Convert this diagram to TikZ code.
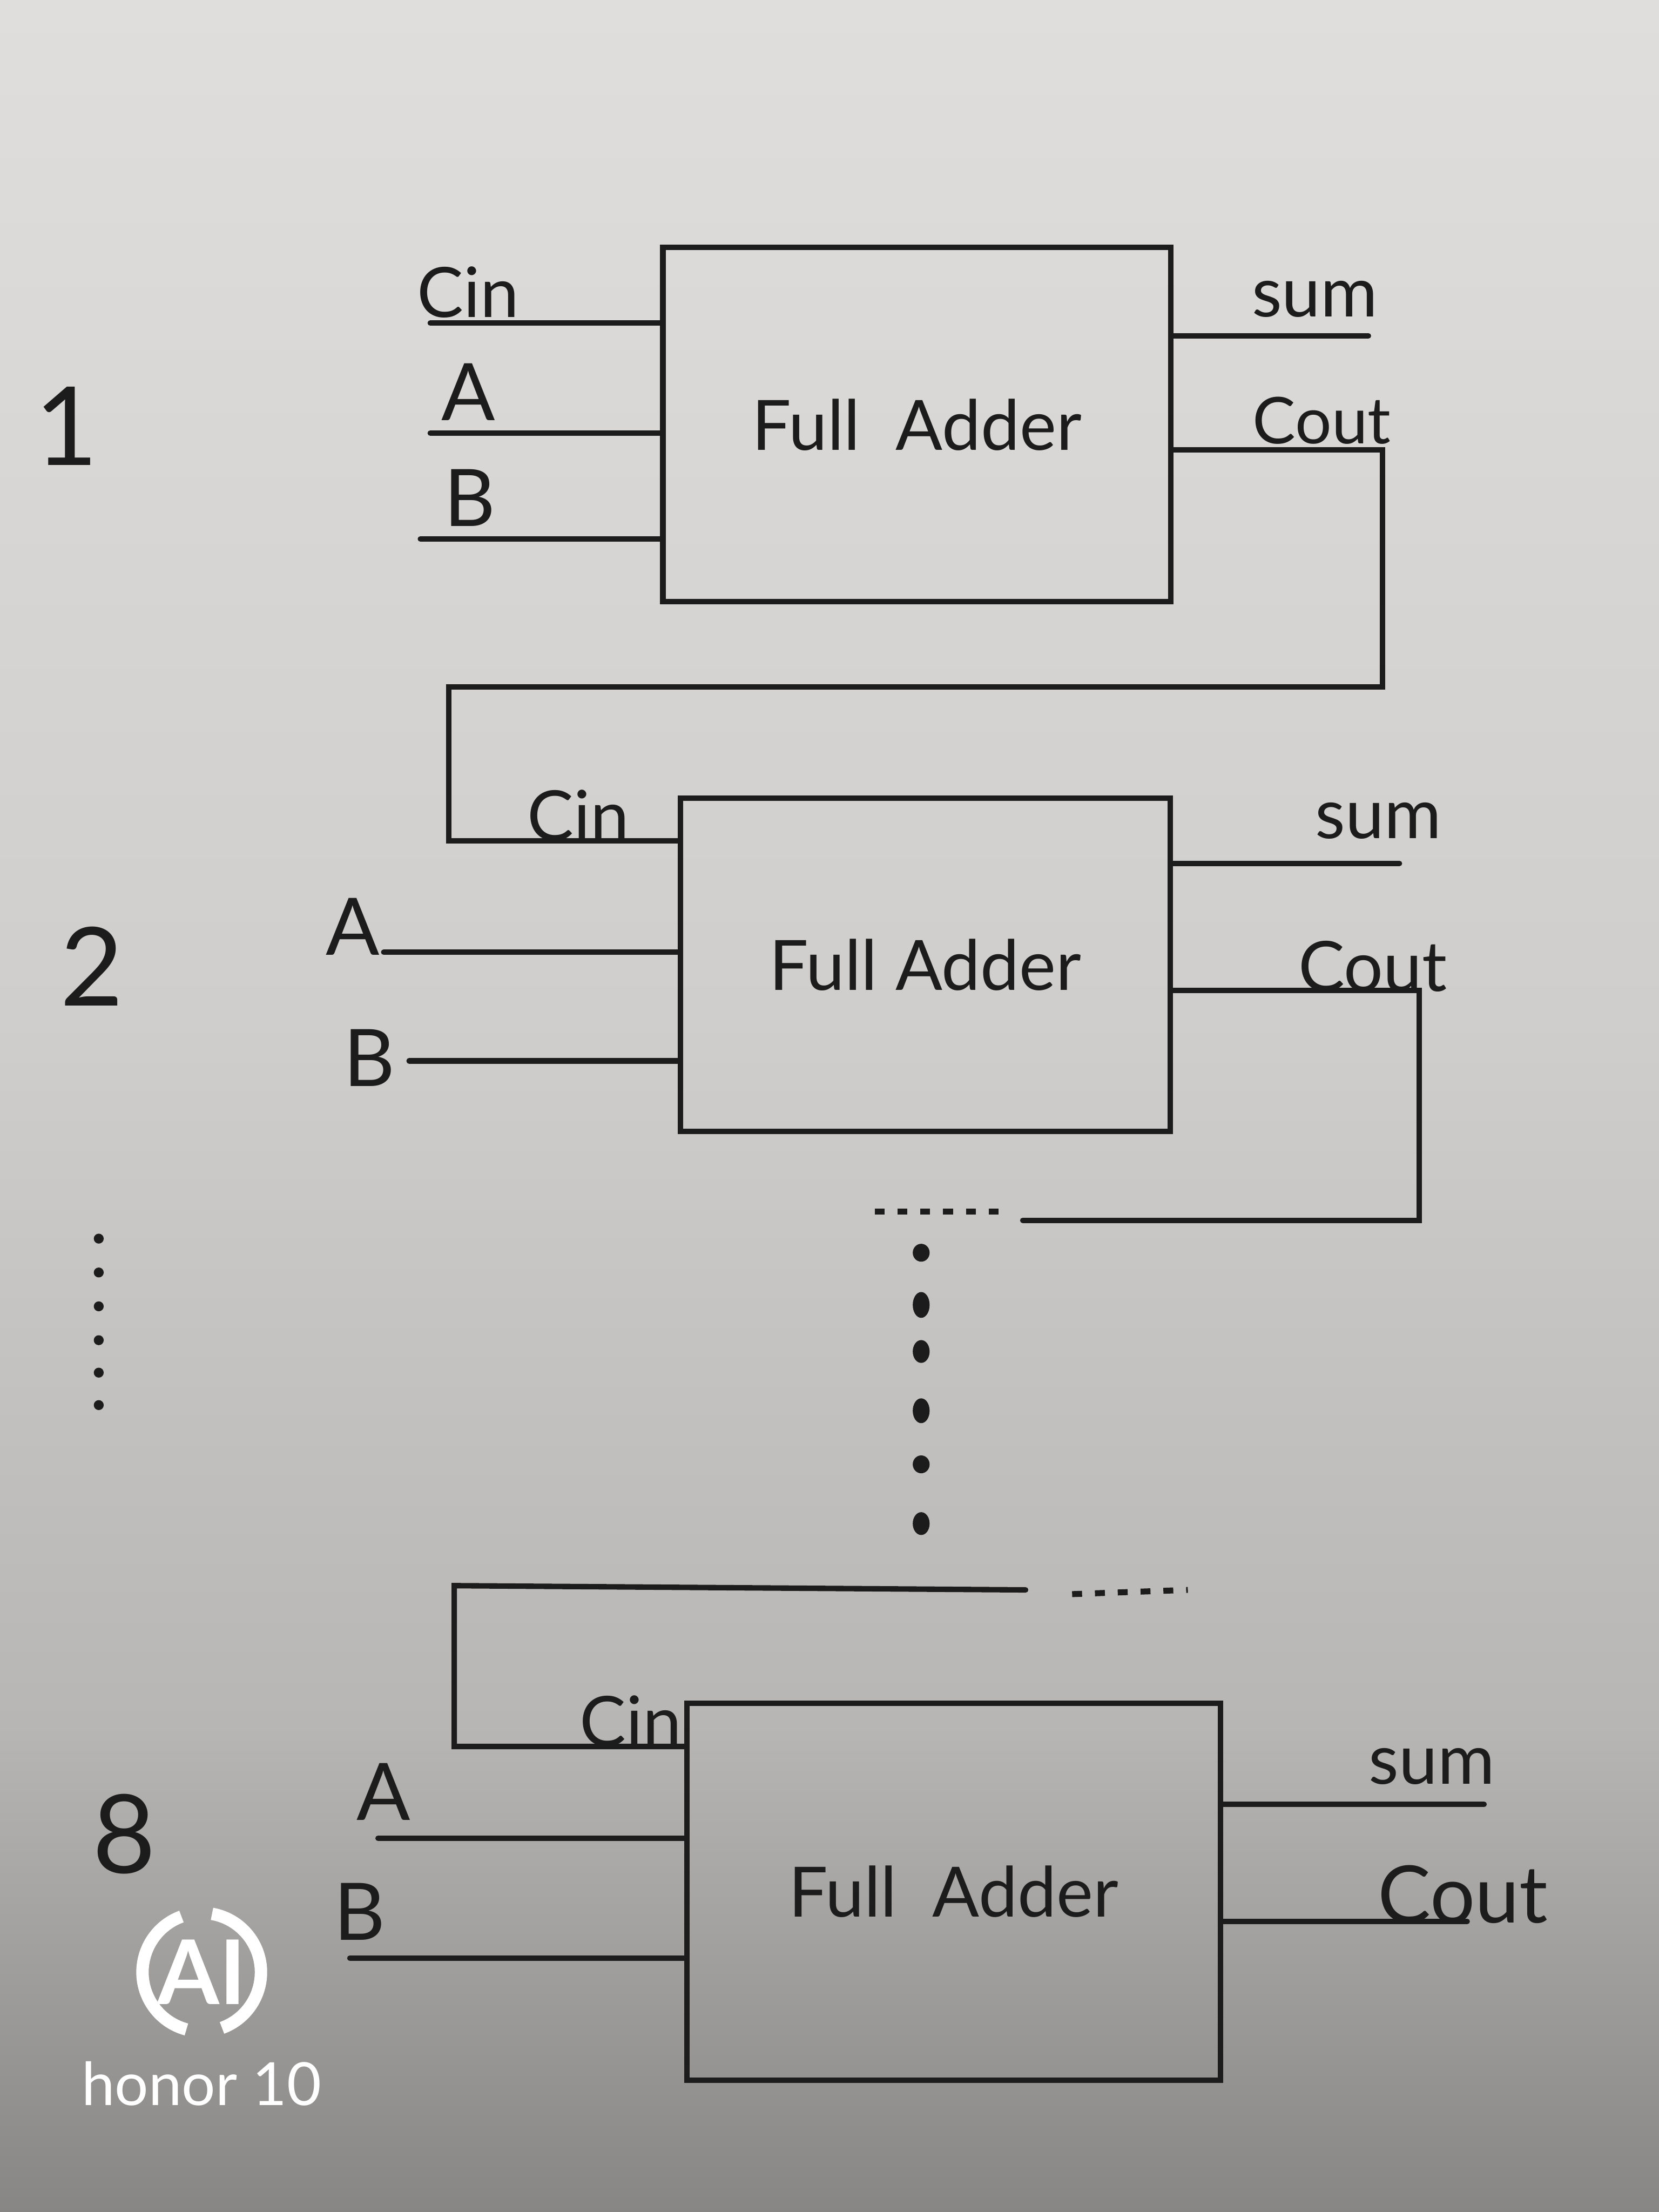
\documentclass[tikz,border=0pt]{standalone}
\usepackage{fontspec}
\setmainfont{Lato}
\usepackage{tikz}
\usetikzlibrary{positioning, calc, shapes.geometric}
\definecolor{PaperTop}{RGB}{224,222,220}
\definecolor{PaperMid}{RGB}{208,206,204}
\definecolor{PaperLow}{RGB}{184,182,180}
\definecolor{PaperBot}{RGB}{136,134,132}
\definecolor{Ink}{RGB}{28,28,28}
\pgfdeclareverticalshading{paper}{100bp}{color(0bp)=(PaperBot); color(25bp)=(PaperBot);
  color(36bp)=(PaperLow); color(52bp)=(PaperMid); color(75bp)=(PaperTop); color(100bp)=(PaperTop)}

\begin{document}
\begin{tikzpicture}[x=0.01cm, y=-0.01cm,
          fa/.style={rectangle, draw=Ink, line width=1.1pt, font=\fontsize{14}{16}\selectfont,
                     text=Ink, inner sep=0pt},
          wire/.style={draw=Ink, line width=1.1pt, line cap=round},
          lbl/.style={font=\fontsize{14}{16}\selectfont, text=Ink, inner sep=0pt},
          pin/.style={font=\fontsize{16}{18}\selectfont, text=Ink, inner sep=0pt},
          num/.style={font=\fontsize{22}{24}\selectfont, text=Ink, inner sep=0pt},
          more/.style={draw=Ink, line width=1.2pt, dash pattern=on 2pt off 2.6pt},
          dot/.style={ellipse, fill=Ink, inner sep=0pt, minimum width=3.4pt, minimum height=#1},
          tiny/.style={circle, fill=Ink, inner sep=0pt, minimum size=2pt}
        ]
        % Paper
        \shade[shading=paper] (0,0) rectangle (1176,1568);
        \useasboundingbox (0,0) rectangle (1176,1568);

        % Stage 1
        \node[fa, minimum width=3.6cm, minimum height=2.51cm]
              (fa1) at (650,301) {Full\ \ Adder};
        \node[num] (n1) at (47,302) {1};
        \coordinate (cin1) at (305,229);
        \coordinate (a1) at (305,307);
        \coordinate (b1) at (298,382);
        \coordinate (sum1) at (970,238);
        \coordinate (k1a) at (980,319);
        \coordinate (k1b) at (980,487);
        \coordinate (k1c) at (318,487);
        \coordinate (k1d) at (318,596);
        \draw[wire] (cin1) -- (cin1 -| fa1.west);
        \draw[wire] (a1) -- (a1 -| fa1.west);
        \draw[wire] (b1) -- (b1 -| fa1.west);
        \draw[wire] (fa1.east |- sum1) -- (sum1);
        \node[lbl] (lcin1) at (332,207) {Cin};
        \node[pin] (la1) at (332,278) {A};
        \node[pin] (lb1) at (333,353) {B};
        \node[lbl] (lsum1) at (932,212) {sum};
        \node[lbl, font=\fontsize{13}{15}\selectfont] (lcout1) at (937,298) {Cout};

        % Stage 2
        \node[fa, minimum width=3.47cm, minimum height=2.36cm]
              (fa2) at (656,684) {Full Adder};
        \node[num] (n2) at (65,685) {2};
        \coordinate (a2) at (272,675);
        \coordinate (b2) at (290,752);
        \coordinate (sum2) at (992,612);
        \coordinate (k2a) at (1006,702);
        \coordinate (k2b) at (1006,865);
        \coordinate (k2c) at (725,865);
        \draw[wire] (a2) -- (a2 -| fa2.west);
        \draw[wire] (b2) -- (b2 -| fa2.west);
        \draw[wire] (fa2.east |- sum2) -- (sum2);
        \draw[wire] (fa2.east |- k2a) -- (k2a) -- (k2b) -- (k2c);
        \node[lbl] (lcin2) at (410,578) {Cin};
        \node[pin] (la2) at (250,657) {A};
        \node[pin] (lb2) at (262,750) {B};
        \node[lbl] (lsum2) at (977,582) {sum};
        \node[lbl] (lcout2) at (973,685) {Cout};

        % carry 1 -> 2
        \draw[wire] (fa1.east |- k1a) -- (k1a) -- (k1b) -- (k1c) -- (k1d)
              -- (k1d -| fa2.west);

        % skipped stages
        \coordinate (d2a) at (620,859);
        \coordinate (d2b) at (712,859);
        \draw[more] (d2a) -- (d2b);
        \foreach \y/\s in {888/3.6pt, 925/5.2pt, 958/4.6pt, 1000/5pt, 1038/3.6pt, 1080/4.6pt}
              \node[dot=\s] at (653,\y) {};
        \foreach \y in {878, 902, 926, 950, 973, 996}
              \node[tiny] at (70,\y) {};

        % Stage 8
        \node[fa, minimum width=3.78cm, minimum height=2.67cm]
              (fa3) at (676,1341) {Full\ \ Adder};
        \node[num] (n8) at (88,1300) {8};
        \coordinate (k7a) at (727,1127);
        \coordinate (k7b) at (322,1124);
        \coordinate (k7c) at (322,1238);
        \coordinate (d7a) at (760,1130);
        \coordinate (d7b) at (842,1127);
        \coordinate (a3) at (268,1303);
        \coordinate (b3) at (248,1388);
        \coordinate (sum3) at (1052,1279);
        \coordinate (cout3) at (1040,1362);
        \draw[wire] (k7a) -- (k7b) -- (k7c) -- (k7c -| fa3.west);
        \draw[more] (d7a) -- (d7b);
        \draw[wire] (a3) -- (a3 -| fa3.west);
        \draw[wire] (b3) -- (b3 -| fa3.west);
        \draw[wire] (fa3.east |- sum3) -- (sum3);
        \draw[wire] (fa3.east |- cout3) -- (cout3);
        \node[lbl] (lcin3) at (447,1220) {Cin};
        \node[pin] (la3) at (272,1270) {A};
        \node[pin] (lb3) at (255,1355) {B};
        \node[lbl] (lsum3) at (1015,1252) {sum};
        \node[lbl, font=\fontsize{16}{18}\selectfont] (lcout3) at (1037,1343) {Cout};

        % camera mark
        \draw[white, line width=2.5pt] (143,1398) ++(105:42) arc (105:250:42);
        \draw[white, line width=2.5pt] (143,1398) ++(-80:42) arc (-80:70:42);
        \node[font=\fontsize{18}{20}\selectfont\bfseries, text=white, inner sep=0pt]
              (logo) at (143,1398) {AI};
        \node[font=\fontsize{12}{14}\selectfont, text=white, inner sep=0pt]
              (brand) at (143,1477) {honor 10};
      \end{tikzpicture}
\end{document}
